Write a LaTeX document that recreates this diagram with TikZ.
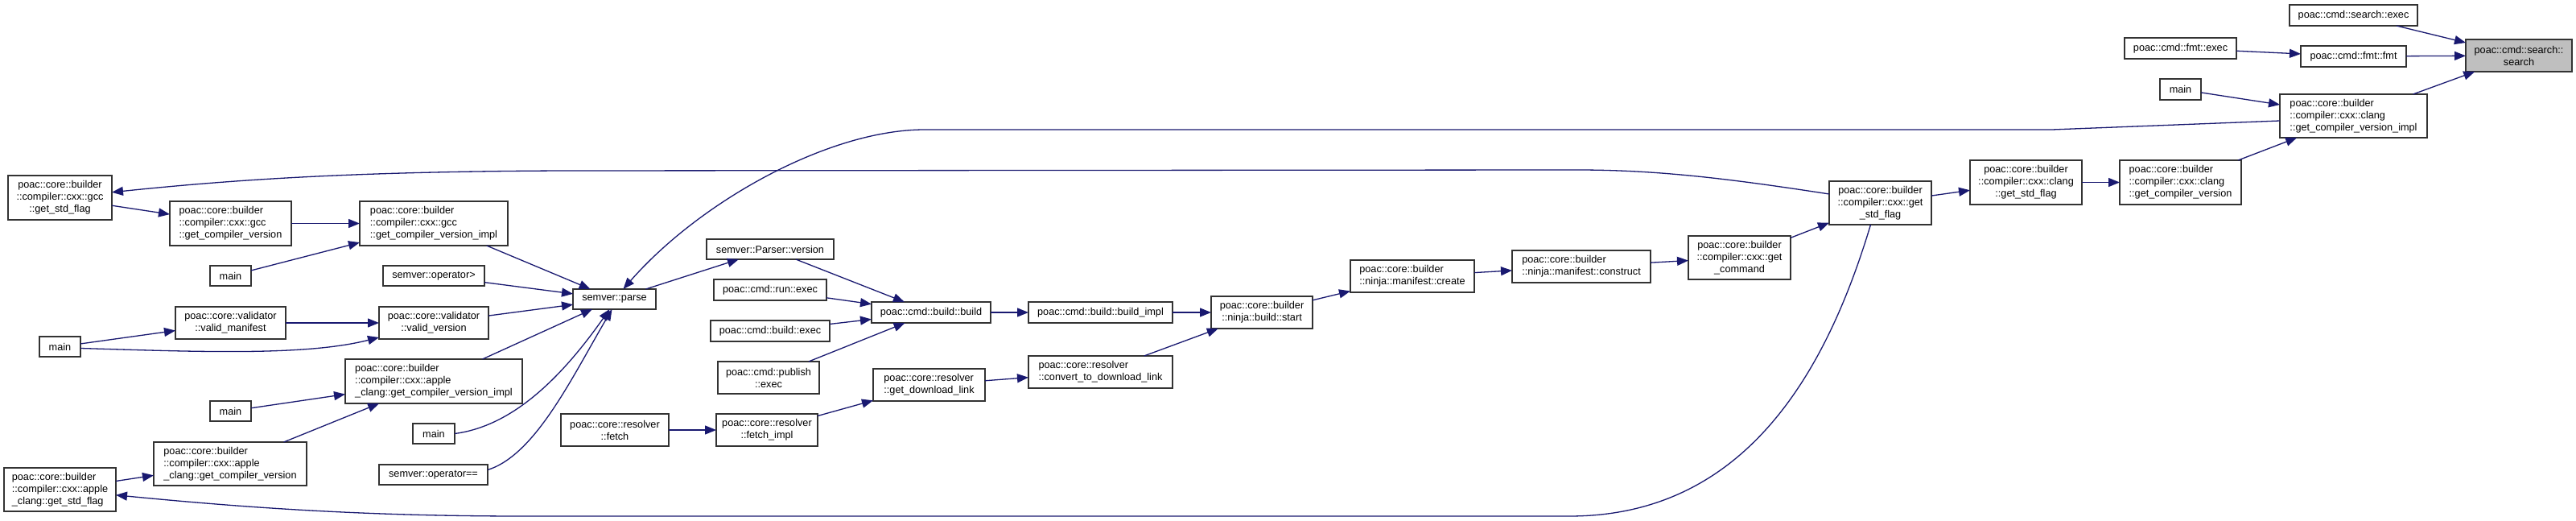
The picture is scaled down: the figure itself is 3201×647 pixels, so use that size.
\documentclass[tikz,border=0pt]{standalone}
\usepackage{fontspec}
\setmainfont{Liberation Sans}
\usetikzlibrary{arrows.meta}
\definecolor{edgec}{RGB}{25,25,112}
\definecolor{rootfill}{RGB}{191,191,191}
\newcommand\gnode[7]{\node[gbox,#6,minimum width={(#3)-(#2)},minimum height={(#5)-(#4)}] (#1) at ({((#2)+(#3))/2},{((#4)+(#5))/2}) {#7};}
\begin{document}
\begin{tikzpicture}[x=1pt,y=-1pt,
  gbox/.style={draw=black!80,line width=1.2pt,fill=white,inner sep=0pt,outer sep=0pt,font=\fontsize{12.7}{15}\selectfont},
  edge/.style={draw=edgec,line width=1.3pt,-{Triangle[length=14pt,width=11pt]}}]
\useasboundingbox[fill=white] (0,0) rectangle (3201,647);
\gnode{sexec}{2845}{3004}{6}{32}{align=center}{poac::cmd::search::exec}
\gnode{search}{3064}{3196}{49}{89}{align=center,fill=rootfill}{poac::cmd::search::\\search}
\gnode{fmtexec}{2640}{2779}{47}{73}{align=center}{poac::cmd::fmt::exec}
\gnode{fmt}{2859}{2990}{57}{83}{align=center}{poac::cmd::fmt::fmt}
\gnode{maintop}{2684}{2735}{98}{124}{align=center}{main}
\gnode{clangimpl}{2833}{3016}{117}{171}{align=left}{poac::core::builder\\::compiler::cxx::clang\\::get\_compiler\_version\_impl}
\gnode{clanggcv}{2634}{2785}{199}{254}{align=left}{poac::core::builder\\::compiler::cxx::clang\\::get\_compiler\_version}
\gnode{clangstd}{2448}{2587}{199}{254}{align=center}{poac::core::builder\\::compiler::cxx::clang\\::get\_std\_flag}
\gnode{cxxstd}{2273}{2400}{225}{279}{align=center}{poac::core::builder\\::compiler::cxx::get\\\_std\_flag}
\gnode{getcmd}{2098}{2225}{293}{347}{align=center}{poac::core::builder\\::compiler::cxx::get\\\_command}
\gnode{construct}{1879}{2051}{311}{351}{align=left}{poac::core::builder\\::ninja::manifest::construct}
\gnode{create}{1678}{1832}{323}{363}{align=left}{poac::core::builder\\::ninja::manifest::create}
\gnode{nstart}{1505}{1631}{368}{408}{align=center}{poac::core::builder\\::ninja::build::start}
\gnode{buildimpl}{1278}{1457}{375}{401}{align=center}{poac::cmd::build::build\_impl}
\gnode{convert}{1278}{1457}{442}{482}{align=left}{poac::core::resolver\\::convert\_to\_download\_link}
\gnode{build}{1083}{1231}{375}{401}{align=center}{poac::cmd::build::build}
\gnode{getdl}{1085}{1224}{458}{498}{align=left}{poac::core::resolver\\::get\_download\_link}
\gnode{parserv}{878}{1036}{297}{322}{align=center}{semver::Parser::version}
\gnode{runexec}{887}{1027}{347}{373}{align=center}{poac::cmd::run::exec}
\gnode{buildexec}{883}{1031}{398}{424}{align=center}{poac::cmd::build::exec}
\gnode{publish}{892}{1018}{449}{489}{align=center}{poac::cmd::publish\\::exec}
\gnode{fetchimpl}{890}{1016}{514}{554}{align=center}{poac::core::resolver\\::fetch\_impl}
\gnode{fetch}{697}{831}{514}{554}{align=center}{poac::core::resolver\\::fetch}
\gnode{parse}{712}{815}{359}{384}{align=center}{semver::parse}
\gnode{gccimpl}{447}{631}{250}{305}{align=left}{poac::core::builder\\::compiler::cxx::gcc\\::get\_compiler\_version\_impl}
\gnode{opgt}{476}{602}{330}{355}{align=center}{semver::operator>}
\gnode{validver}{471}{607}{381}{421}{align=center}{poac::core::validator\\::valid\_version}
\gnode{appleimpl}{429}{649}{446}{501}{align=left}{poac::core::builder\\::compiler::cxx::apple\\\_clang::get\_compiler\_version\_impl}
\gnode{maind}{513}{565}{526}{551}{align=center}{main}
\gnode{opeq}{471}{606}{577}{602}{align=center}{semver::operator==}
\gnode{gccstd}{10}{139}{218}{273}{align=center}{poac::core::builder\\::compiler::cxx::gcc\\::get\_std\_flag}
\gnode{gccgcv}{211}{362}{250}{305}{align=left}{poac::core::builder\\::compiler::cxx::gcc\\::get\_compiler\_version}
\gnode{maina}{261}{312}{330}{355}{align=center}{main}
\gnode{validman}{218}{355}{381}{421}{align=center}{poac::core::validator\\::valid\_manifest}
\gnode{mainb}{49}{100}{418}{443}{align=center}{main}
\gnode{mainc}{261}{312}{498}{523}{align=center}{main}
\gnode{applegcv}{191}{381}{549}{603}{align=left}{poac::core::builder\\::compiler::cxx::apple\\\_clang::get\_compiler\_version}
\gnode{applestd}{5}{144}{581}{635}{align=left}{poac::core::builder\\::compiler::cxx::apple\\\_clang::get\_std\_flag}
% edges
\draw[edge] (sexec) -- (search);
\draw[edge] (fmt) -- (search);
\draw[edge] (clangimpl) -- (search);
\draw[edge] (fmtexec) -- (fmt);
\draw[edge] (maintop) -- (clangimpl);
\draw[edge] (clanggcv) -- (clangimpl);
\draw[edge] (clangstd) -- (clanggcv);
\draw[edge] (cxxstd) -- (clangstd);
\draw[edge] ([yshift=-6pt]clangimpl.west) -- (2550,161) -- (1149,161) .. controls (1030,161) and (870,250) .. (parse);
\draw[edge] ([yshift=11pt]cxxstd.west) .. controls (2150,222) and (2060,211) .. (1960,211) -- (700,212) .. controls (450,213) and (300,222) .. (gccstd);
\draw[edge] ([xshift=-12pt]cxxstd.south) .. controls (2270,460) and (2170,641) .. (1950,641) -- (650,641) .. controls (450,641) and (300,630) .. (applestd);
\draw[edge] (getcmd) -- (cxxstd);
\draw[edge] (construct) -- (getcmd);
\draw[edge] (create) -- (construct);
\draw[edge] (nstart) -- (create);
\draw[edge] (buildimpl) -- (nstart);
\draw[edge] (convert) -- (nstart);
\draw[edge] (build) -- (buildimpl);
\draw[edge] (getdl) -- (convert);
\draw[edge] (fetchimpl) -- (getdl);
\draw[edge] (fetch) -- (fetchimpl);
\draw[edge] (parserv) -- (build);
\draw[edge] (runexec) -- (build);
\draw[edge] (buildexec) -- (build);
\draw[edge] (publish) -- (build);
\draw[edge] (parse) -- (parserv);
\draw[edge] (gccimpl) -- (parse);
\draw[edge] (opgt) -- (parse);
\draw[edge] (validver) -- (parse);
\draw[edge] (appleimpl) -- (parse);
\draw[edge] (maind.east) .. controls (630,530) and (690,480) .. ([xshift=-6pt]parse.south);
\draw[edge] ([yshift=6pt]opeq.east) .. controls (665,565) and (710,470) .. ([xshift=-3pt]parse.south);
\draw[edge] (gccstd) -- (gccgcv);
\draw[edge] (gccgcv) -- (gccimpl);
\draw[edge] (maina) -- (gccimpl);
\draw[edge] (validman) -- (validver);
\draw[edge] (mainb) -- (validman);
\draw[edge] ([yshift=-2pt]mainb.east) .. controls (250,437) and (380,442) .. ([yshift=-18pt]validver.west);
\draw[edge] (mainc) -- (appleimpl);
\draw[edge] (applegcv) -- (appleimpl);
\draw[edge] (applestd) -- (applegcv);
\end{tikzpicture}
\end{document}
